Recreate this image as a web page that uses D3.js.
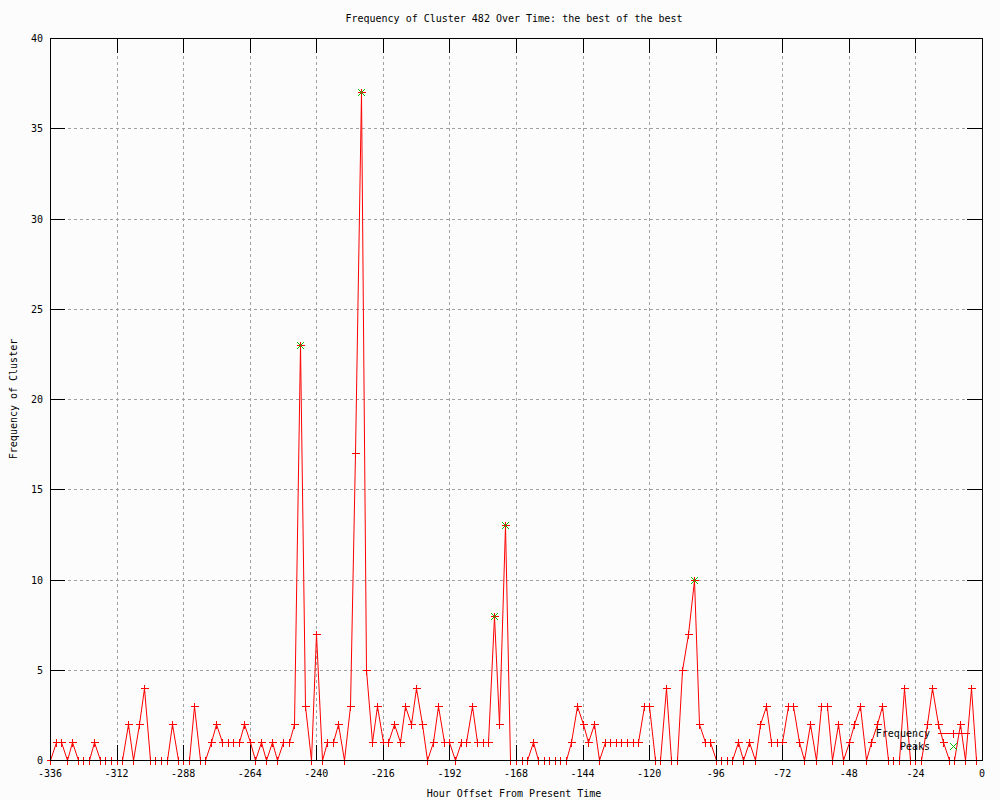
<!DOCTYPE html>
<html><head><meta charset="utf-8">
<script src="https://cdn.jsdelivr.net/npm/d3@7"></script>
<style>
body{margin:0;background:#fcfcfc;}
svg{display:block;}
text{font-family:"DejaVu Sans Mono",monospace;font-size:10px;fill:#000;}
</style></head>
<body><svg id="c" width="1000" height="800"></svg>
<script>
const titleText = "Frequency of Cluster 482 Over Time: the best of the best";
const xLabel = "Hour Offset From Present Time";
const yLabel = "Frequency of Cluster";
const xTicks = [-336,-312,-288,-264,-240,-216,-192,-168,-144,-120,-96,-72,-48,-24,0];
const yTicks = [0,5,10,15,20,25,30,35,40];
// hour offsets -336, -334, ..., -2
const hours = d3.range(-336, 0, 2);
const frequency = [
 0,1,1,0,1,0,0,0,1,0,
 0,0,0,0,2,0,2,4,0,0,
 0,0,2,0,0,0,3,0,0,1,
 2,1,1,1,1,2,1,0,1,0,
 1,0,1,1,2,23,3,0,7,0,
 1,1,2,0,3,17,37,5,1,3,
 1,1,2,1,3,2,4,2,0,1,
 3,1,1,0,1,1,3,1,1,1,
 8,2,13,0,0,0,0,1,0,0,
 0,0,0,0,1,3,2,1,2,0,
 1,1,1,1,1,1,1,3,3,0,
 0,4,0,0,5,7,10,2,1,1,
 0,0,0,0,1,0,1,0,2,3,
 1,1,1,3,3,1,0,2,0,3,
 3,0,2,0,1,2,3,0,1,2,
 3,0,0,0,4,0,0,0,2,4,
 2,1,0,0,2,0,4,0];
const peakHours = [-246,-224,-176,-172,-104];
const peakValues = [23,37,8,13,10];

const svg = d3.select("#c");
const L=50,R=982,T=38,B=760;
const x = d3.scaleLinear().domain([-336,0]).range([L,R]);
const y = d3.scaleLinear().domain([0,40]).range([B,T]);

svg.append("rect").attr("width",1000).attr("height",800).attr("fill","#fcfcfc");

// grid
const g = svg.append("g").attr("shape-rendering","crispEdges");
g.selectAll(".gx").data(xTicks.slice(1,-1)).enter().append("line")
 .attr("x1",d=>Math.round(x(d))+0.5).attr("x2",d=>Math.round(x(d))+0.5)
 .attr("y1",T).attr("y2",B).attr("stroke","#a0a0a0").attr("stroke-dasharray","3,3");
g.selectAll(".gy").data(yTicks.slice(1,-1)).enter().append("line")
 .attr("y1",d=>Math.round(y(d))+0.5).attr("y2",d=>Math.round(y(d))+0.5)
 .attr("x1",L).attr("x2",R).attr("stroke","#a0a0a0").attr("stroke-dasharray","3,3");

// data line
const pts = hours.map((h,i)=>[h,frequency[i]]);
svg.append("path").datum(pts)
 .attr("d",d3.line().x(d=>Math.round(x(d[0]))+0.5).y(d=>Math.round(y(d[1]))+0.5))
 .attr("fill","none").attr("stroke","#ff0000").attr("stroke-width",1);

const plus = (sel,cx,cy,s,col)=>{
  sel.append("path").attr("d",`M${cx-s},${cy}H${cx+s}M${cx},${cy-s}V${cy+s}`)
   .attr("stroke",col).attr("stroke-width",1).attr("fill","none").attr("shape-rendering","crispEdges");
};
const cross = (sel,cx,cy,s,col)=>{
  sel.append("path").attr("d",`M${cx-s},${cy-s}L${cx+s},${cy+s}M${cx-s},${cy+s}L${cx+s},${cy-s}`)
   .attr("stroke",col).attr("stroke-width",1.2).attr("fill","none").attr("shape-rendering","crispEdges");
};
const mk = svg.append("g");
pts.forEach(d=>plus(mk,Math.round(x(d[0]))+0.5,Math.round(y(d[1]))+0.5,4,"#ff0000"));
peakHours.forEach((h,i)=>cross(mk,Math.round(x(h))+0.5,Math.round(y(peakValues[i]))+0.5,3.5,"#00c000"));

// border & ticks
const ax = svg.append("g").attr("shape-rendering","crispEdges");
ax.append("rect").attr("x",L+0.5).attr("y",T+0.5).attr("width",R-L).attr("height",B-T)
 .attr("fill","none").attr("stroke","#000");
xTicks.forEach(t=>{
  const px=Math.round(x(t))+0.5;
  ax.append("line").attr("x1",px).attr("x2",px).attr("y1",B).attr("y2",B-15).attr("stroke","#000");
  ax.append("line").attr("x1",px).attr("x2",px).attr("y1",T).attr("y2",T+15).attr("stroke","#000");
});
yTicks.forEach(t=>{
  const py=Math.round(y(t))+0.5;
  ax.append("line").attr("y1",py).attr("y2",py).attr("x1",L).attr("x2",L+15).attr("stroke","#000");
  ax.append("line").attr("y1",py).attr("y2",py).attr("x1",R).attr("x2",R-15).attr("stroke","#000");
});
svg.selectAll(".xt").data(xTicks).enter().append("text")
 .attr("x",d=>x(d)).attr("y",777).attr("text-anchor","middle").text(d=>String(d));
svg.selectAll(".yt").data(yTicks).enter().append("text")
 .attr("x",43).attr("y",d=>y(d)+4).attr("text-anchor","end").text(d=>d);

svg.append("text").attr("x",514).attr("y",22).attr("text-anchor","middle").text(titleText);
svg.append("text").attr("x",514).attr("y",797).attr("text-anchor","middle").text(xLabel);
svg.append("text").attr("transform","translate(17,399) rotate(-90)").attr("text-anchor","middle").text(yLabel);

// legend
const lg = svg.append("g");
lg.append("text").attr("x",930).attr("y",737).attr("text-anchor","end").text("Frequency");
lg.append("line").attr("x1",938).attr("x2",970).attr("y1",733.5).attr("y2",733.5)
 .attr("stroke","#ff0000").attr("shape-rendering","crispEdges");
plus(lg,953.5,733.5,4,"#ff0000");
lg.append("text").attr("x",930).attr("y",750).attr("text-anchor","end").text("Peaks");
cross(lg,953.5,746.5,3.5,"#00c000");
</script></body></html>
